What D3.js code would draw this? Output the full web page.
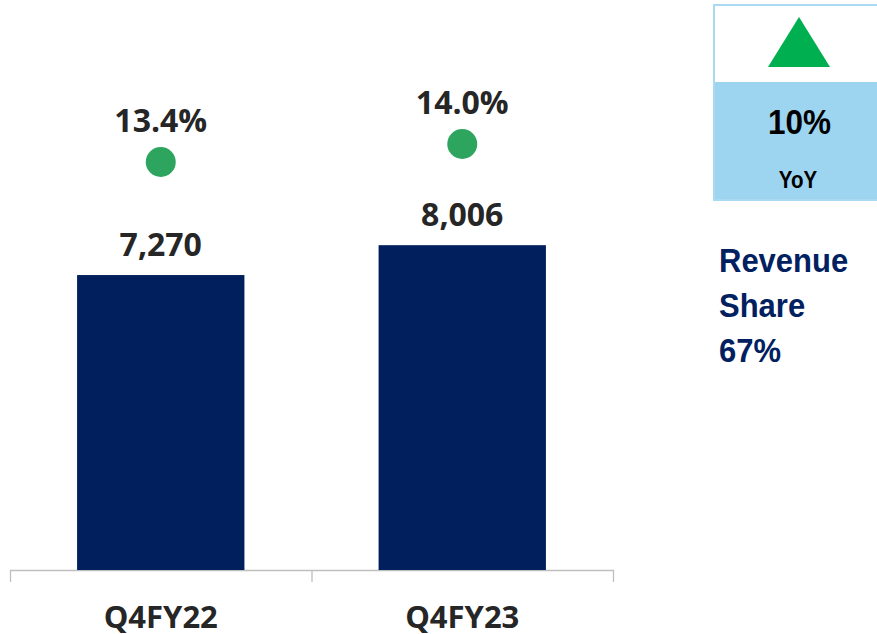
<!DOCTYPE html>
<html>
<head>
<meta charset="utf-8">
<script src="https://cdn.jsdelivr.net/npm/d3@7"></script>
<style>
  body { margin: 0; background: #fff; }
  svg { display: block; }
</style>
</head>
<body>
<div class="chart"></div>
<script>
// data
const categories = ['Q4FY22', 'Q4FY23'];
const revenue = [7270, 8006];
const marginPct = [13.4, 14.0];
const yoyLabel = '10%';
const yoySub = 'YoY';
const shareLines = ['Revenue', 'Share', '67%'];

const width = 877;
const height = 634;

const svg = d3.select('.chart').append('svg')
	.attr('width', width)
	.attr('height', height);

const xScale = d3.scaleBand()
	.domain(categories)
	.range([10, 613])
	.padding(0);

const barWidth = xScale.bandwidth() * 0.555;

const yScale = d3.scaleLinear()
	.domain([0, 14000])
	.range([570, 2]);

const pctScale = d3.scaleLinear()
	.domain([12, 15])
	.range([204, 114]);

const textFont = "'Open Sans', sans-serif";
const boxFont = "'Liberation Sans', Arial, sans-serif";

// axis
const xAxis = d3.axisBottom(xScale)
	.tickSizeInner(0)
	.tickSizeOuter(12)
	.tickPadding(36);

const axisG = svg.append('g')
	.attr('class', 'axis x-axis')
	.attr('transform', 'translate(0,570)')
	.call(xAxis);

axisG.select('.domain')
	.attr('stroke', '#bfbfbf')
	.attr('stroke-width', 1.3);

axisG.selectAll('.tick text')
	.attr('font-family', textFont)
	.attr('font-weight', 700)
	.attr('font-size', '31px')
	.attr('fill', '#262626');

// divider ticks between categories
axisG.selectAll('.divider')
	.data(categories.slice(1))
	.enter()
	.append('line')
	.attr('class', 'divider')
	.attr('x1', d => xScale(d) + 0.5)
	.attr('x2', d => xScale(d) + 0.5)
	.attr('y1', 0)
	.attr('y2', 12)
	.attr('stroke', '#bfbfbf')
	.attr('stroke-width', 1.3);

// bars
svg.selectAll('.bar')
	.data(categories)
	.enter()
	.append('rect')
	.attr('class', 'bar')
	.attr('x', d => xScale(d) + (xScale.bandwidth() - barWidth) / 2)
	.attr('y', (d, i) => yScale(revenue[i]))
	.attr('width', barWidth)
	.attr('height', (d, i) => yScale(0) - yScale(revenue[i]))
	.attr('fill', '#001f5c');

svg.selectAll('.label')
	.data(categories)
	.enter()
	.append('text')
	.attr('class', 'label')
	.attr('x', d => xScale(d) + xScale.bandwidth() / 2)
	.attr('y', (d, i) => yScale(revenue[i]) - 19)
	.attr('text-anchor', 'middle')
	.attr('font-family', textFont)
	.attr('font-weight', 700)
	.attr('font-size', '32px')
	.attr('fill', '#262626')
	.text((d, i) => d3.format(',')(revenue[i]));

// margin dots
svg.selectAll('.dot')
	.data(categories)
	.enter()
	.append('circle')
	.attr('class', 'dot')
	.attr('cx', d => xScale(d) + xScale.bandwidth() / 2)
	.attr('cy', (d, i) => pctScale(marginPct[i]))
	.attr('r', 15)
	.attr('fill', '#2ea55f');

svg.selectAll('.pct')
	.data(categories)
	.enter()
	.append('text')
	.attr('class', 'pct')
	.attr('x', d => xScale(d) + xScale.bandwidth() / 2)
	.attr('y', (d, i) => pctScale(marginPct[i]) - 30)
	.attr('text-anchor', 'middle')
	.attr('font-family', textFont)
	.attr('font-weight', 700)
	.attr('font-size', '32px')
	.attr('fill', '#262626')
	.text((d, i) => marginPct[i].toFixed(1) + '%');

// YoY box
const box = svg.append('g')
	.attr('transform', 'translate(714,5)');

box.append('rect')
	.attr('x', 0)
	.attr('y', 77)
	.attr('width', 170)
	.attr('height', 118)
	.attr('fill', '#9dd5f1');

box.append('rect')
	.attr('x', 0)
	.attr('y', 0)
	.attr('width', 170)
	.attr('height', 195)
	.attr('fill', 'none')
	.attr('stroke', '#a9daf2')
	.attr('stroke-width', 2);

box.append('path')
	.attr('d', 'M85,12L116,62L54,62Z')
	.attr('fill', '#00b050');

// the box texts are slightly stretched vertically in the source
box.append('text')
	.attr('transform', 'translate(85.5,129) scale(1,1.13)')
	.attr('text-anchor', 'middle')
	.attr('font-family', boxFont)
	.attr('font-weight', 700)
	.attr('font-size', '31.5px')
	.attr('fill', '#000')
	.text(yoyLabel);

box.append('text')
	.attr('transform', 'translate(84,183) scale(1,1.15)')
	.attr('text-anchor', 'middle')
	.attr('font-family', boxFont)
	.attr('font-weight', 700)
	.attr('font-size', '20.5px')
	.attr('fill', '#000')
	.text(yoySub);

// revenue share note
svg.append('g')
	.selectAll('text')
	.data(shareLines)
	.enter()
	.append('text')
	.attr('transform', (d, i) => `translate(719,${272 + i * 45}) scale(1,1.1)`)
	.attr('font-family', boxFont)
	.attr('font-weight', 700)
	.attr('font-size', '31px')
	.attr('fill', '#002060')
	.text(d => d);
</script>
</body>
</html>
